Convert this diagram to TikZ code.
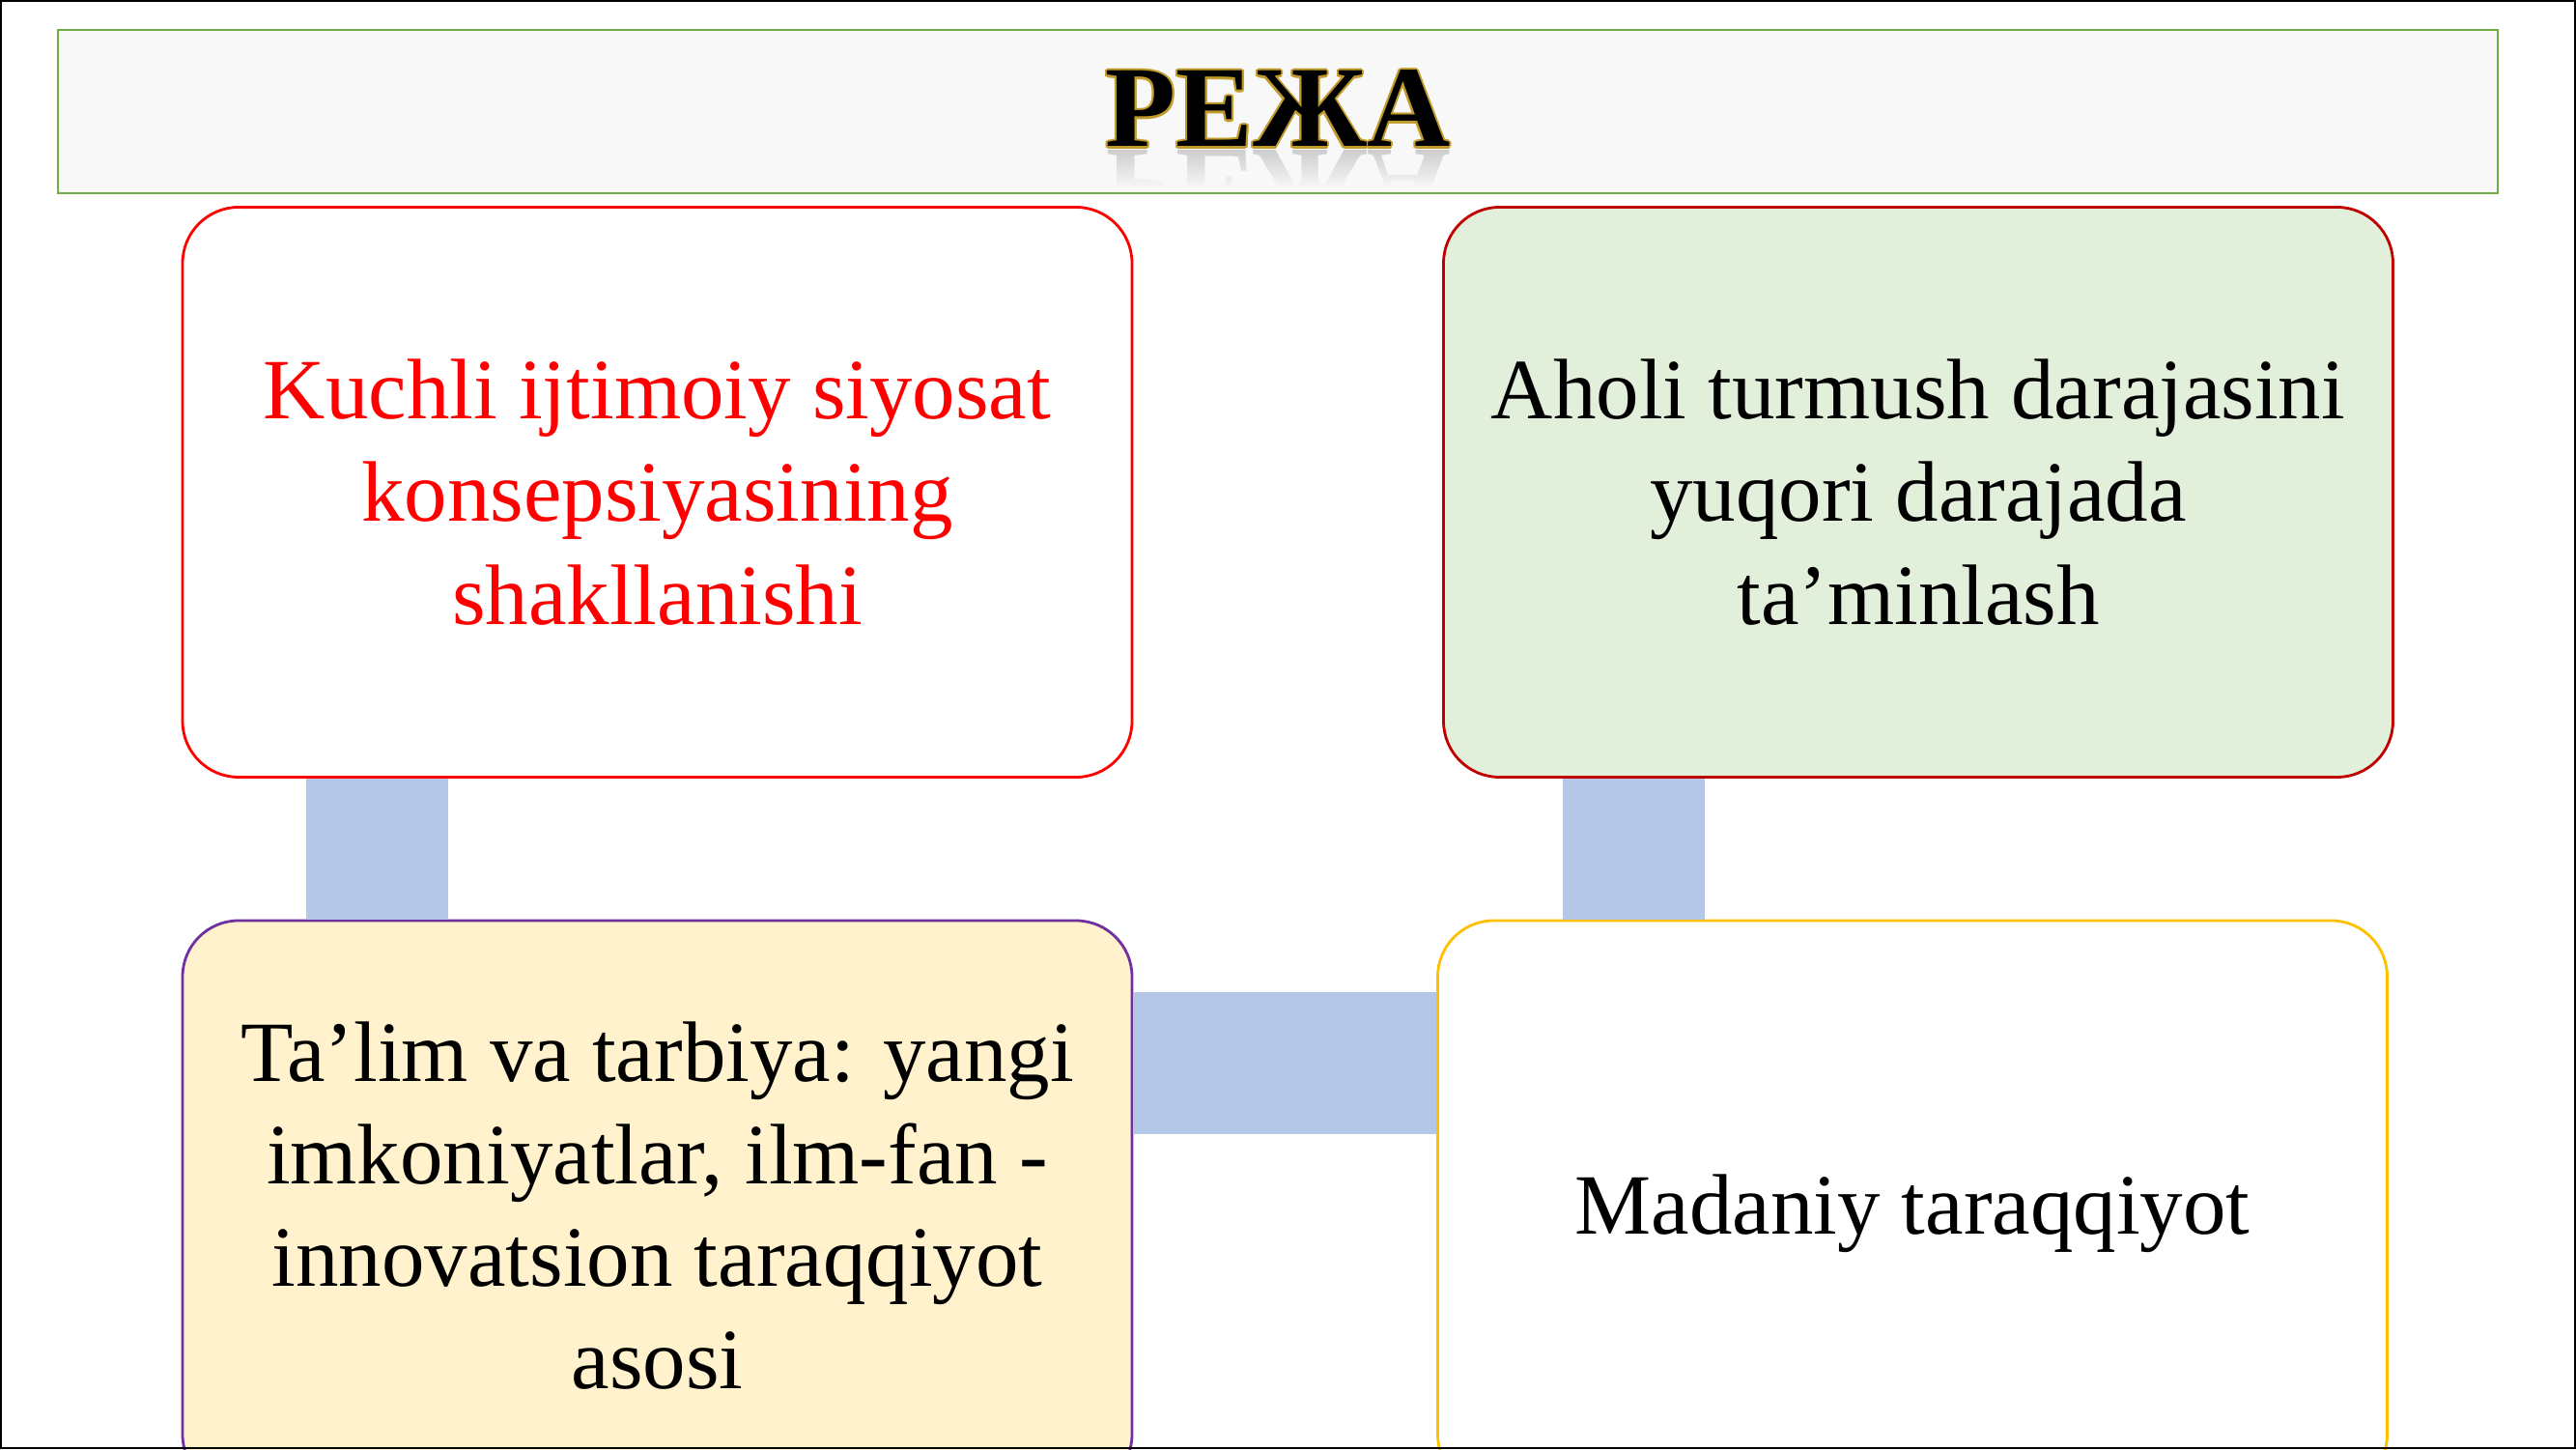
\documentclass[tikz,border=0pt]{standalone}
\usepackage{fontspec}
\setmainfont{Liberation Serif}
\usetikzlibrary{positioning,fadings}
\definecolor{headgreen}{HTML}{70AD47}
\definecolor{headgray}{HTML}{F8F8F8}
\definecolor{headgold}{HTML}{C09A2A}
\definecolor{linkblue}{HTML}{B4C7E7}
\definecolor{redline}{HTML}{FF0000}
\definecolor{darkred}{HTML}{C00000}
\definecolor{greenfill}{HTML}{E2EFDA}
\definecolor{purpleline}{HTML}{7030A0}
\definecolor{yellowfill}{HTML}{FFF2CC}
\definecolor{goldline}{HTML}{FFC000}
\begin{document}
\begin{tikzpicture}[font=\fontsize{25.3}{30.2}\selectfont,
    plan/.style={rounded corners=0.58cm,line width=0.8pt,minimum width=9.83cm,
        minimum height=5.9cm,align=center,inner sep=0pt},
    link/.style={line width=1.47cm,linkblue},
    headtext/.style={anchor=base,inner sep=0pt,font=\fontsize{34}{40}\selectfont\bfseries}]
    \useasboundingbox (0,0) rectangle (26.67,15);
    % title bar
    \node[fill=headgray,minimum width=25.24cm,minimum height=1.67cm,inner sep=0pt]
        (head) at (13.23,13.845) {};
    \coordinate (hbase) at (13.23,13.48);
    \begin{scope}
        \clip (head.south west) rectangle (head.north east);
        \begin{scope}[yscale=-1,transform shape]
            \node[headtext,text=black!20] at ([yshift=0.04cm]hbase) {РЕЖА};
        \end{scope}
        \fill[headgray,path fading=north] ([yshift=-0.42cm]hbase -| head.west)
            rectangle ([yshift=-0.02cm]hbase -| head.east);
        \fill[headgray] (head.south west) rectangle ([yshift=-0.42cm]hbase -| head.east);
    \end{scope}
    \draw[headgreen,line width=0.5pt] (head.south west) rectangle (head.north east);
    \foreach \dx/\dy in {0.6/0,-0.6/0,0/0.6,0/-0.6,0.45/0.45,-0.45/0.45,0.45/-0.45,-0.45/-0.45}
        \node[headtext,text=headgold] at ([shift={(\dx pt,\dy pt)}]hbase) {РЕЖА};
    \node[headtext] (ttl) at (hbase) {РЕЖА};
    % four boxes
    \node[plan,draw=redline,fill=white,text=redline] (tl) at (6.805,9.905)
        {Kuchli ijtimoiy siyosat\\konsepsiyasining\\shakllanishi};
    \node[plan,draw=darkred,fill=greenfill] (tr) at (19.86,9.905)
        {Aholi turmush darajasini\\yuqori darajada\\ta’minlash};
    \node[plan,draw=purpleline,fill=yellowfill] (bl) at (6.805,2.52)
        {Ta’lim va tarbiya: yangi\\imkoniyatlar, ilm-fan -\\innovatsion taraqqiyot\\asosi};
    \node[plan,draw=goldline,fill=white] (br) at (19.80,2.52)
        {\raisebox{-0.085cm}[\height][\depth]{Madaniy taraqqiyot}};
    % connectors
    \draw[link] ([xshift=-2.905cm]tl.south) -- ([xshift=-2.905cm]tl.south |- bl.north);
    \draw[link] ([xshift=-2.95cm]tr.south) -- ([xshift=-2.95cm]tr.south |- br.north);
    \draw[link] ([yshift=1.48cm]bl.east) -- ([yshift=1.48cm]bl.east -| br.west);
    % slide frame
    \draw[line width=0.5pt] (0.01,0.01) rectangle (26.66,14.99);
\end{tikzpicture}
\end{document}
